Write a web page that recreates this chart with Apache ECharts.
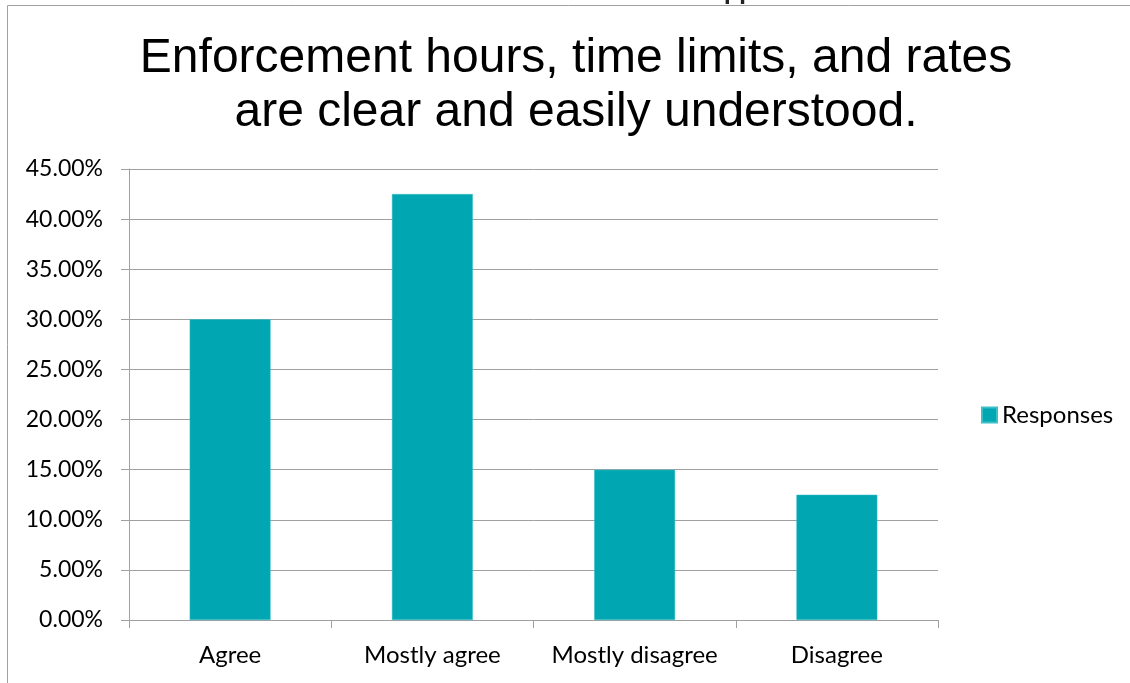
<!DOCTYPE html>
<html>
<head>
<meta charset="utf-8">
<script src="https://cdn.jsdelivr.net/npm/echarts@6/dist/echarts.min.js"></script>
<style>
html,body{margin:0;padding:0;background:#fff;}
#c{width:1130px;height:683px;}
</style>
</head>
<body>
<div id="c"></div>
<script>
const titleLines = ['Enforcement hours, time limits, and rates', 'are clear and easily understood.'];
const clippedHeader = 'Skipped';
const categories = ['Agree', 'Mostly agree', 'Mostly disagree', 'Disagree'];
const seriesName = 'Responses';
const responses = [0.30, 0.425, 0.15, 0.125];
const yMin = 0, yMax = 0.45, yStep = 0.05;

const labelFont = 'Lato, "Open Sans", sans-serif';
const chart = echarts.init(document.getElementById('c'), null, {renderer: 'canvas'});
chart.setOption({
  animation: false,
  backgroundColor: '#fff',
  title: {
    text: titleLines.join('\n'),
    left: 571,
    textAlign: 'center',
    top: 27,
    textStyle: {fontFamily: '"Liberation Sans", Arial, sans-serif', fontSize: 48, fontWeight: 'normal', color: '#000', lineHeight: 54}
  },
  graphic: [
    {type: 'text', x: 688, y: -9, silent: true,
      style: {text: clippedHeader, font: 'bold 27px Lato, sans-serif', fill: '#222', verticalAlign: 'middle', align: 'left'}},
    {type: 'line', shape: {x1: 7.5, y1: 5.5, x2: 1130, y2: 5.5}, style: {stroke: '#a0a0a0', lineWidth: 1}},
    {type: 'line', shape: {x1: 7.5, y1: 5.5, x2: 7.5, y2: 683}, style: {stroke: '#a0a0a0', lineWidth: 1}}
  ],
  legend: {
    data: [seriesName],
    left: 976,
    top: 398,
    icon: 'rect',
    itemWidth: 15,
    itemHeight: 15,
    itemGap: 8,
    textStyle: {fontFamily: labelFont, fontSize: 24, color: '#000'}
  },
  grid: {left: 129, right: 192, top: 169, bottom: 63, containLabel: false},
  xAxis: {
    type: 'category',
    data: categories,
    axisLine: {lineStyle: {color: '#a0a0a0', width: 1}},
    axisTick: {show: true, interval: 0, length: 8, lineStyle: {color: '#a0a0a0'}},
    axisLabel: {interval: 0, fontFamily: labelFont, fontSize: 24, color: '#000', margin: 23}
  },
  yAxis: {
    type: 'value',
    min: yMin, max: yMax, interval: yStep,
    axisLine: {show: true, lineStyle: {color: '#a0a0a0', width: 1}},
    axisTick: {show: true, length: 8, lineStyle: {color: '#a0a0a0'}},
    splitLine: {lineStyle: {color: '#a0a0a0', width: 1}},
    axisLabel: {fontFamily: labelFont, fontSize: 23, color: '#000', margin: 26,
      formatter: v => (v * 100).toFixed(2) + '%'}
  },
  series: [{
    name: seriesName,
    type: 'bar',
    data: responses,
    barCategoryGap: '60%',
    itemStyle: {color: '#00a6b1', borderColor: '#3cc0c8', borderWidth: 0.5}
  }]
});
</script>
</body>
</html>
